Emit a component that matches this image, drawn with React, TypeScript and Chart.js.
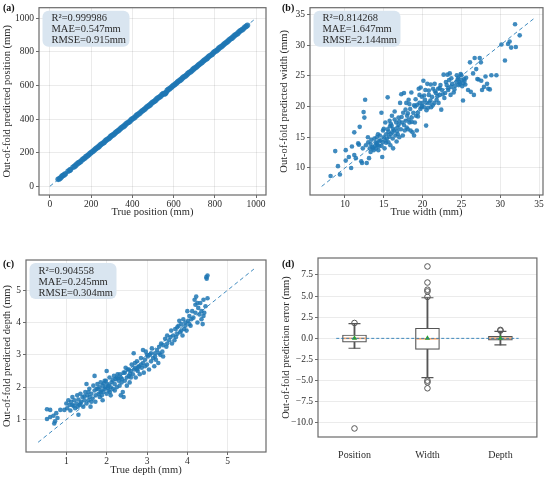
import { useEffect, useRef } from 'react';
import { Chart, registerables } from 'chart.js';

Chart.register(...registerables);

const FONT = "'Liberation Serif', 'Times New Roman', serif";
const INK = '#2b2b2b';
const FRAME = '#6a6a6a';
const GRID = 'rgba(0,0,0,0.08)';
const DOT = 'rgba(31,119,180,0.85)';
const DIAG = 'rgba(31,119,180,0.85)';

// (a) position: [true, predicted]
const positionTicks = [0, 200, 400, 600, 800, 1000];
const positionDiag = [0, 1000];
const positionStats = ['R²=0.999986', 'MAE=0.547mm', 'RMSE=0.915mm'];
const positionPoints = [
  [40, 41], [46, 45], [52, 51], [58, 59], [63, 64], [69, 68], [75, 74], [88, 89], [96, 95], [100, 99],
  [112, 113], [119, 118], [125, 124], [131, 132], [138, 139], [144, 143], [150, 149], [157, 158], [163, 164], [169, 168],
  [175, 176], [182, 181], [188, 187], [194, 195], [200, 201], [207, 206], [213, 212], [219, 220], [225, 226], [232, 231],
  [238, 237], [244, 245], [250, 251], [257, 256], [263, 262], [269, 270], [275, 276], [282, 281], [288, 287], [294, 295],
  [300, 301], [307, 306], [313, 312], [319, 320], [325, 326], [332, 331], [338, 337], [344, 345], [350, 351], [357, 356],
  [363, 362], [369, 370], [375, 376], [382, 381], [388, 387], [394, 395], [400, 401], [407, 406], [413, 412], [419, 420],
  [425, 426], [432, 431], [438, 437], [444, 445], [450, 451], [457, 456], [463, 462], [469, 470], [475, 476], [482, 481],
  [488, 487], [494, 495], [500, 501], [507, 506], [513, 512], [519, 520], [525, 526], [532, 531], [538, 537], [544, 545],
  [550, 551], [556, 549], [560, 553], [563, 557], [569, 570], [575, 576], [582, 581], [588, 587], [594, 595], [600, 601],
  [607, 606], [613, 612], [619, 620], [625, 626], [632, 631], [638, 637], [644, 645], [650, 651], [657, 656], [663, 662],
  [669, 670], [675, 676], [682, 681], [688, 687], [694, 695], [700, 701], [707, 706], [713, 712], [719, 720], [725, 726],
  [732, 731], [738, 737], [744, 745], [750, 751], [757, 756], [763, 762], [769, 770], [775, 776], [782, 781], [788, 787],
  [794, 795], [800, 801], [807, 806], [813, 812], [819, 820], [825, 826], [832, 831], [838, 837], [844, 845], [850, 851],
  [857, 856], [863, 862], [869, 870], [875, 876], [882, 881], [888, 887], [894, 895], [900, 901], [907, 906], [913, 912],
  [919, 920], [925, 926], [932, 931], [938, 937], [945, 946], [952, 951], [958, 957],
];

// (b) width: [true, predicted]
const widthTicks = [10, 15, 20, 25, 30, 35];
const widthDiag = [7, 34.4];
const widthStats = ['R²=0.814268', 'MAE=1.647mm', 'RMSE=2.144mm'];
const widthPoints = [
  [8.75, 12.75], [8.15, 8.7], [9.1, 10.3], [9.35, 8.95], [10.1, 12.9], [10.1, 11.2], [10.5, 11.8], [10.8, 10.0], [10.9, 13.5], [11.2, 15.8],
  [11.2, 12.1], [11.4, 11.6], [11.7, 14.0], [11.8, 13.8], [11.9, 16.7], [12.1, 11.1], [12.2, 10.8], [12.3, 13.2], [12.4, 19.1], [12.5, 18.2],
  [12.6, 21.1], [12.7, 13.7], [12.8, 10.8], [12.96, 15.0], [13.1, 11.6], [13.2, 13.2], [13.4, 14.6], [13.5, 13.4], [13.6, 13.2], [13.7, 12.9],
  [13.8, 14.8], [13.95, 14.2], [14.0, 13.2], [14.2, 13.7], [14.25, 15.5], [14.3, 12.9], [14.5, 15.3], [14.6, 14.5], [14.7, 19.0], [14.8, 11.8],
  [14.85, 14.2], [14.9, 16.1], [15.0, 15.0], [15.1, 13.2], [15.2, 17.4], [15.3, 15.5], [15.4, 14.8], [15.5, 21.5], [15.5, 16.3], [15.6, 14.2],
  [15.75, 17.7], [15.85, 13.7], [15.9, 15.5], [16.0, 16.9], [16.05, 18.5], [16.15, 14.8], [16.2, 13.2], [16.3, 16.1], [16.4, 19.2], [16.5, 15.3],
  [16.6, 17.4], [16.65, 14.3], [16.75, 16.6], [16.8, 15.5], [16.9, 18.2], [17.0, 15.0], [17.1, 20.6], [17.2, 16.3], [17.25, 22.0], [17.35, 17.4],
  [17.45, 15.3], [17.5, 19.0], [17.6, 22.2], [17.7, 16.1], [17.8, 17.7], [17.9, 20.6], [17.95, 16.6], [18.0, 18.5], [18.1, 16.3], [18.2, 21.1],
  [18.3, 17.4], [18.4, 19.6], [18.45, 16.1], [18.55, 22.3], [18.6, 18.2], [18.7, 15.8], [18.8, 19.0], [18.9, 15.3], [19.0, 17.4], [19.05, 20.0],
  [19.15, 18.5], [19.25, 16.1], [19.3, 20.3], [19.4, 19.0], [19.5, 22.9], [19.6, 20.6], [19.7, 19.6], [19.75, 23.1], [19.85, 19.9], [19.9, 21.6],
  [20.0, 20.6], [20.1, 24.2], [20.2, 19.9], [20.3, 21.1], [20.35, 22.7], [20.45, 16.9], [20.5, 20.6], [20.6, 23.7], [20.7, 19.8], [20.8, 21.9],
  [20.9, 20.6], [21.05, 23.6], [21.1, 19.9], [21.2, 21.6], [21.35, 22.9], [21.5, 20.6], [21.55, 23.7], [21.7, 22.2], [21.8, 21.1], [22.0, 22.9],
  [22.05, 20.6], [22.2, 21.9], [22.3, 23.5], [22.4, 19.5], [22.5, 22.7], [22.7, 25.2], [22.8, 21.4], [22.9, 22.2], [23.1, 23.5], [23.2, 25.2],
  [23.3, 22.7], [23.4, 24.3], [23.5, 25.4], [23.6, 21.9], [23.7, 23.2], [23.8, 23.7], [24.0, 22.3], [24.1, 22.8], [24.35, 24.0], [24.5, 24.4],
  [24.6, 24.7], [24.65, 23.5], [24.75, 24.0], [24.8, 23.7], [24.9, 25.3], [25.0, 24.3], [25.1, 23.3], [25.2, 21.0], [25.25, 23.8], [25.35, 24.5],
  [25.4, 24.2], [25.5, 23.6], [25.6, 24.7], [25.85, 22.7], [26.1, 27.2], [26.2, 22.4], [26.5, 25.4], [26.6, 21.9], [26.7, 27.9], [26.9, 26.1],
  [27.05, 24.5], [27.2, 24.4], [27.35, 27.9], [27.5, 27.2], [27.55, 24.2], [27.65, 22.7], [27.9, 23.2], [28.1, 24.9], [28.3, 23.7], [28.45, 22.9],
  [28.65, 22.8], [28.85, 25.1], [29.5, 25.1], [30.15, 30.1], [30.6, 27.5], [31.0, 30.2], [31.2, 30.6], [31.4, 29.6], [31.9, 33.4], [32.0, 29.7],
  [32.5, 31.6], [14.1, 14.0], [14.4, 13.6], [15.2, 14.5], [15.7, 15.1], [16.1, 15.8], [13.3, 12.6], [15.8, 16.8], [16.9, 17.0], [18.2, 17.9],
  [13.0, 14.2], [13.3, 13.9], [13.9, 13.6], [14.1, 15.0], [14.4, 14.4], [14.7, 13.6], [15.0, 16.4], [15.3, 14.1], [15.6, 15.9], [15.9, 17.2],
  [16.2, 16.4], [16.4, 17.9], [16.7, 16.0], [17.0, 17.6], [17.3, 18.3], [17.6, 17.0], [17.8, 19.5], [18.1, 18.9], [18.3, 20.4], [18.6, 17.5],
  [18.9, 20.2], [19.1, 21.2], [19.4, 18.4], [19.6, 21.9], [19.9, 20.1], [20.2, 21.8], [20.5, 19.4], [20.8, 22.6], [21.0, 21.0], [21.3, 20.2],
  [21.6, 22.5], [21.9, 21.7], [22.2, 23.0], [22.6, 22.0], [23.0, 24.0], [23.3, 23.0], [23.7, 24.6], [24.2, 23.4], [24.4, 25.1], [25.0, 25.1],
];

// (c) depth: [true, predicted]
const depthTicks = [1, 2, 3, 4, 5];
const depthDiag = [0.3, 5.65];
const depthStats = ['R²=0.904558', 'MAE=0.245mm', 'RMSE=0.304mm'];
const depthPoints = [
  [0.52, 1.32], [0.6, 1.3], [0.52, 1.02], [0.6, 1.08], [0.68, 1.12], [0.72, 0.95], [0.7, 0.88], [0.78, 1.05], [0.75, 1.2], [0.85, 1.3],
  [0.95, 1.3], [1.0, 1.5], [1.02, 1.35], [1.05, 1.6], [1.08, 1.45], [1.1, 1.28], [1.12, 1.55], [1.15, 1.7], [1.18, 1.42], [1.2, 1.6],
  [1.22, 1.35], [1.25, 1.5], [1.27, 1.75], [1.3, 1.15], [1.3, 1.62], [1.33, 1.45], [1.35, 1.8], [1.37, 1.55], [1.4, 1.7], [1.42, 1.4],
  [1.45, 1.6], [1.47, 1.85], [1.5, 2.1], [1.5, 1.5], [1.52, 1.75], [1.55, 1.6], [1.57, 1.95], [1.6, 1.4], [1.62, 1.8], [1.65, 1.65],
  [1.67, 2.05], [1.7, 1.9], [1.7, 2.35], [1.72, 1.55], [1.75, 1.95], [1.77, 2.1], [1.8, 1.8], [1.82, 2.0], [1.83, 1.7], [1.85, 2.15],
  [1.87, 1.9], [1.9, 2.05], [1.9, 1.6], [1.92, 1.85], [1.95, 2.2], [1.95, 1.95], [1.97, 2.0], [2.0, 1.8], [2.0, 2.5], [2.02, 2.1],
  [2.05, 1.9], [2.07, 2.3], [2.1, 1.75], [2.1, 2.0], [2.12, 2.15], [2.15, 1.95], [2.18, 2.35], [2.2, 2.1], [2.22, 2.25], [2.25, 2.0],
  [2.27, 2.4], [2.3, 2.2], [2.32, 2.05], [2.35, 2.3], [2.37, 2.15], [2.4, 1.85], [2.42, 1.7], [2.42, 2.45], [2.45, 2.2], [2.47, 2.6],
  [2.5, 2.3], [2.5, 2.05], [2.52, 2.55], [2.55, 2.35], [2.57, 2.15], [2.6, 2.5], [2.62, 2.7], [2.65, 2.4], [2.67, 3.05], [2.7, 2.6],
  [2.72, 2.3], [2.75, 2.8], [2.77, 2.5], [2.8, 2.65], [2.82, 2.4], [2.85, 2.9], [2.87, 2.6], [2.9, 3.15], [2.9, 2.75], [2.92, 2.45],
  [2.95, 2.85], [2.97, 3.1], [3.0, 2.7], [3.02, 2.95], [3.05, 2.55], [3.07, 3.0], [3.1, 2.8], [3.12, 3.2], [3.15, 2.9], [3.18, 2.65],
  [3.2, 3.05], [3.22, 2.85], [3.25, 3.15], [3.28, 2.75], [3.3, 3.25], [3.33, 3.0], [3.35, 3.35], [3.38, 3.1], [3.4, 2.95], [3.45, 3.5],
  [3.48, 3.25], [3.5, 3.6], [3.55, 3.45], [3.6, 3.75], [3.62, 3.35], [3.65, 3.6], [3.7, 3.8], [3.72, 3.55], [3.75, 3.65], [3.78, 3.9],
  [3.8, 4.05], [3.82, 3.7], [3.85, 3.95], [3.88, 3.6], [3.9, 4.1], [3.92, 3.8], [3.95, 4.0], [3.98, 3.75], [4.0, 4.35], [4.02, 4.05],
  [4.05, 4.2], [4.08, 3.9], [4.1, 4.1], [4.15, 4.15], [4.18, 4.7], [4.2, 4.3], [4.22, 4.8], [4.25, 4.0], [4.27, 4.45], [4.3, 4.25],
  [4.32, 4.6], [4.35, 4.1], [4.38, 3.95], [4.4, 4.7], [4.42, 4.3], [4.45, 4.5], [4.48, 5.35], [4.5, 5.45], [4.47, 5.4], [4.5, 4.75],
  [1.88, 1.75], [1.93, 2.12], [2.03, 1.98], [2.08, 1.85], [2.28, 2.28], [2.58, 2.42], [2.68, 2.55], [2.78, 2.62], [1.58, 1.7], [1.28, 1.4],
  [1.15, 1.45], [1.35, 1.5], [1.45, 1.72], [1.55, 1.85], [1.62, 1.55], [1.73, 1.75], [1.78, 1.95], [1.85, 1.85], [1.98, 2.2], [2.05, 2.05],
  [2.15, 2.22], [2.2, 1.9], [2.25, 2.3], [2.33, 2.4], [2.38, 2.25], [2.45, 2.45], [2.55, 2.55], [2.6, 2.3], [2.7, 2.75], [2.75, 2.55],
  [2.85, 2.7], [2.95, 2.65], [3.0, 3.0], [3.1, 3.05], [3.2, 2.95], [3.3, 3.05], [3.4, 3.3], [3.5, 3.35], [3.58, 3.55], [3.68, 3.45],
  [3.75, 3.85], [3.85, 3.75], [3.95, 3.9], [4.05, 3.95], [4.12, 4.35], [4.25, 4.6], [4.35, 4.35], [4.4, 4.2], [4.2, 4.55], [2.35, 1.75],
];

// (d) out-of-fold error box plots
const errCategories = ['Position', 'Width', 'Depth'];
const errTicks = [-10, -7.5, -5, -2.5, 0, 2.5, 5, 7.5];
const errLowWhisker = [-1.17, -4.65, -0.78];
const errQ1 = [-0.45, -1.3, -0.22];
const errMedian = [0.0, -0.05, 0.02];
const errQ3 = [0.4, 1.2, 0.24];
const errHighWhisker = [1.75, 4.8, 0.82];
const errMean = [0.02, 0.0, 0.0];
const errOutliers = [
  [1.82, -10.65],
  [8.5, 6.6, 5.75, 5.55, 4.9, -5.0, -5.2, -5.9],
  [0.92, 1.0],
];

type Area = { l: number; r: number; t: number; b: number };

function overlay(tag: string, tagX: number, tagY: number, stats: string[] | null) {
  return {
    id: 'overlay',
    afterDraw(chart: Chart) {
      const { ctx, chartArea: a } = chart;
      ctx.save();
      ctx.strokeStyle = FRAME;
      ctx.lineWidth = 1.2;
      ctx.strokeRect(a.left, a.top, a.right - a.left, a.bottom - a.top);
      if (stats) {
        const x = a.left + 3.5;
        const y = a.top + 3;
        ctx.fillStyle = '#d9e5f0';
        ctx.beginPath();
        ctx.roundRect(x, y, 87, 36, 6);
        ctx.fill();
        ctx.fillStyle = INK;
        ctx.font = `10.5px ${FONT}`;
        ctx.textAlign = 'left';
        ctx.textBaseline = 'middle';
        stats.forEach((t, i) => ctx.fillText(t, x + 9, y + 7.8 + i * 11));
      }
      ctx.fillStyle = '#111';
      ctx.font = `bold 10px ${FONT}`;
      ctx.textAlign = 'left';
      ctx.textBaseline = 'middle';
      ctx.fillText(tag, tagX, tagY);
      ctx.restore();
    },
  };
}

function tickFont(size = 9.5) {
  return { family: FONT, size };
}

type ScatterProps = {
  left: number; top: number; width: number; height: number; area: Area;
  xRange: number[]; yRange: number[]; xTicks: number[]; yTicks: number[];
  points: number[][]; diag: number[]; stats: string[];
  xTitle: string; yTitle: string; yTitlePad: number; xTitlePad: number;
  tag: string; tagX: number; tagY: number; radius: number;
};

function ScatterPanel(p: ScatterProps) {
  const ref = useRef<HTMLCanvasElement>(null);

  useEffect(() => {
    if (!ref.current) return;
    const chart = new Chart(ref.current, {
      type: 'scatter',
      data: {
        datasets: [
          {
            data: p.diag.map((v) => ({ x: v, y: v })),
            showLine: true,
            borderColor: DIAG,
            borderWidth: 1,
            borderDash: [4, 3],
            pointRadius: 0,
          },
          {
            data: p.points.map(([x, y]) => ({ x, y })),
            backgroundColor: DOT,
            borderWidth: 0,
            pointRadius: p.radius,
          },
        ],
      },
      options: {
        animation: false,
        responsive: true,
        maintainAspectRatio: false,
        layout: { padding: { left: 0, top: p.area.t, right: p.width - p.area.r, bottom: 0 } },
        plugins: { legend: { display: false }, tooltip: { enabled: false } },
        scales: {
          x: {
            type: 'linear',
            min: p.xRange[0],
            max: p.xRange[1],
            afterBuildTicks: (s: any) => { s.ticks = p.xTicks.map((v) => ({ value: v })); },
            afterFit: (s: any) => { s.height = p.height - p.area.b; },
            grid: { color: GRID, tickColor: FRAME, tickLength: 3 },
            border: { display: false },
            ticks: { color: INK, font: tickFont(), padding: 1, maxRotation: 0, callback: (v: any) => String(v) },
            title: { display: true, text: p.xTitle, color: INK, font: { family: FONT, size: 10.5 }, padding: { top: 0, bottom: p.xTitlePad } },
          },
          y: {
            type: 'linear',
            min: p.yRange[0],
            max: p.yRange[1],
            afterBuildTicks: (s: any) => { s.ticks = p.yTicks.map((v) => ({ value: v })); },
            afterFit: (s: any) => { s.width = p.area.l; },
            grid: { color: GRID, tickColor: FRAME, tickLength: 3 },
            border: { display: false },
            ticks: { color: INK, font: tickFont(), padding: 2, callback: (v: any) => String(v) },
            title: { display: true, text: p.yTitle, color: INK, font: { family: FONT, size: 10.5 }, padding: { top: p.yTitlePad, bottom: 0 } },
          },
        },
      },
      plugins: [overlay(p.tag, p.tagX, p.tagY, p.stats)],
    });
    return () => chart.destroy();
  }, []);

  return (
    <div style={{ position: 'absolute', left: p.left, top: p.top, width: p.width, height: p.height }}>
      <canvas ref={ref} />
    </div>
  );
}

function BoxPanel() {
  const ref = useRef<HTMLCanvasElement>(null);
  const W = 275;
  const H = 237;
  const area: Area = { l: 43, r: 269, t: 18, b: 197 };

  useEffect(() => {
    if (!ref.current) return;
    const at = (vals: number[]) => vals.map((y, i) => ({ x: errCategories[i], y }));
    const outlierPts = errOutliers.flatMap((vals, i) => vals.map((y) => ({ x: errCategories[i], y })));
    const chart = new Chart(ref.current, {
      type: 'bar',
      data: {
        labels: errCategories,
        datasets: [
          {
            type: 'line',
            xAxisID: 'xr',
            data: [{ x: 0, y: 0 }, { x: 1, y: 0 }],
            borderColor: DIAG,
            borderWidth: 1,
            borderDash: [3, 2],
            pointRadius: 0,
          },
          {
            type: 'line',
            data: at(errMean),
            showLine: false,
            pointStyle: 'triangle',
            pointRadius: 3,
            backgroundColor: '#2ca02c',
            borderColor: '#2ca02c',
            borderWidth: 0,
          },
          {
            type: 'line',
            data: at(errMedian),
            showLine: false,
            pointStyle: 'line',
            pointRadius: 11.5,
            borderColor: '#f2a36b',
            borderWidth: 1.6,
          },
          {
            type: 'line',
            data: outlierPts,
            showLine: false,
            pointStyle: 'circle',
            pointRadius: 2.8,
            backgroundColor: 'rgba(0,0,0,0)',
            borderColor: '#555',
            borderWidth: 1,
          },
          {
            type: 'line',
            data: [...at(errLowWhisker), ...at(errHighWhisker)],
            showLine: false,
            pointStyle: 'line',
            pointRadius: 6,
            borderColor: '#555',
            borderWidth: 1.2,
          },
          {
            type: 'bar',
            data: errQ1.map((q, i) => [q, errQ3[i]]),
            grouped: false,
            barThickness: 24,
            backgroundColor: '#ffffff',
            borderColor: '#555',
            borderWidth: 1.2,
            borderSkipped: false,
          },
          {
            type: 'bar',
            data: errLowWhisker.map((w, i) => [w, errQ1[i]]),
            grouped: false,
            barThickness: 1.2,
            backgroundColor: '#555',
            borderWidth: 0,
          },
          {
            type: 'bar',
            data: errHighWhisker.map((w, i) => [errQ3[i], w]),
            grouped: false,
            barThickness: 1.2,
            backgroundColor: '#555',
            borderWidth: 0,
          },
        ],
      },
      options: {
        animation: false,
        responsive: true,
        maintainAspectRatio: false,
        layout: { padding: { left: 0, top: area.t, right: W - area.r, bottom: 0 } },
        plugins: { legend: { display: false }, tooltip: { enabled: false } },
        scales: {
          x: {
            type: 'category',
            afterFit: (s: any) => { s.height = H - area.b; },
            grid: { display: false },
            border: { display: false },
            ticks: { color: INK, font: { family: FONT, size: 10 }, padding: 4 },
          },
          xr: { type: 'linear', display: false, min: 0, max: 1 },
          y: {
            type: 'linear',
            min: -11.66,
            max: 9.5,
            afterBuildTicks: (s: any) => { s.ticks = errTicks.map((v) => ({ value: v })); },
            afterFit: (s: any) => { s.width = area.l; },
            grid: { color: GRID, tickColor: FRAME, tickLength: 3 },
            border: { display: false },
            ticks: {
              color: INK,
              font: tickFont(),
              padding: 2,
              callback: (v: any) => {
                const s = Number(v).toFixed(1);
                return Number(v) < 0 ? '\u2212' + s.slice(1) : s;
              },
            },
            title: {
              display: true,
              text: 'Out-of-fold prediction error (mm)',
              color: INK,
              font: { family: FONT, size: 10.5 },
              padding: { top: 4.7, bottom: 0 },
            },
          },
        },
      },
      plugins: [overlay('(d)', 7, 24, null)],
    });
    return () => chart.destroy();
  }, []);

  return (
    <div style={{ position: 'absolute', left: 275, top: 240, width: W, height: H }}>
      <canvas ref={ref} />
    </div>
  );
}

export default function App() {
  return (
    <div style={{ position: 'absolute', left: 0, top: 0, width: 550, height: 477, background: '#fff' }}>
      <ScatterPanel
        left={0} top={0} width={275} height={222}
        area={{ l: 39, r: 266, t: 2, b: 195 }}
        xRange={[-53, 1048]} yRange={[-52, 1062]}
        xTicks={positionTicks} yTicks={positionTicks}
        points={positionPoints} diag={positionDiag} stats={positionStats}
        xTitle="True position (mm)" yTitle="Out-of-fold predicted position (mm)"
        yTitlePad={0.7} xTitlePad={3.7}
        tag="(a)" tagX={3} tagY={8} radius={2.8}
      />
      <ScatterPanel
        left={275} top={0} width={275} height={222}
        area={{ l: 35, r: 268, t: 2, b: 195 }}
        xRange={[5.5, 35.5]} yRange={[5.6, 36.1]}
        xTicks={widthTicks} yTicks={widthTicks}
        points={widthPoints} diag={widthDiag} stats={widthStats}
        xTitle="True width (mm)" yTitle="Out-of-fold predicted width (mm)"
        yTitlePad={2.7} xTitlePad={3.7}
        tag="(b)" tagX={7} tagY={8} radius={2.3}
      />
      <ScatterPanel
        left={0} top={240} width={275} height={237}
        area={{ l: 26, r: 266, t: 20, b: 212 }}
        xRange={[0.0, 5.95]} yRange={[0.0, 5.93]}
        xTicks={depthTicks} yTicks={depthTicks}
        points={depthPoints} diag={depthDiag} stats={depthStats}
        xTitle="True depth (mm)" yTitle="Out-of-fold predicted depth (mm)"
        yTitlePad={0.7} xTitlePad={0.7}
        tag="(c)" tagX={3} tagY={24} radius={2.3}
      />
      <BoxPanel />
    </div>
  );
}
